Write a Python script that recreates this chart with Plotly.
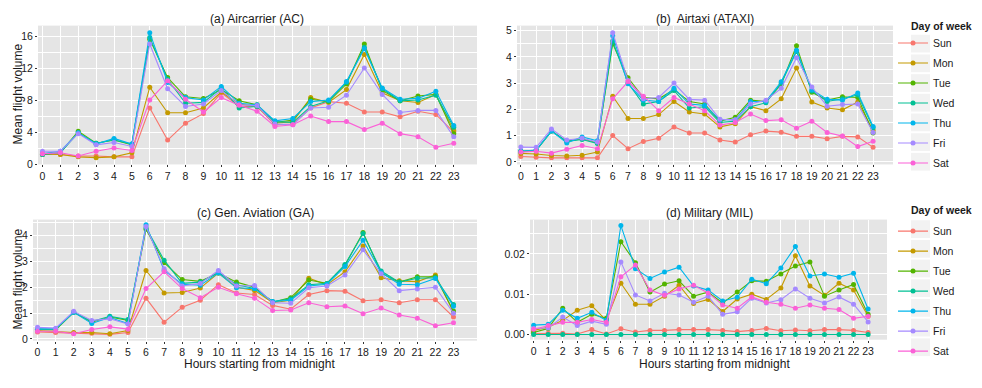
import plotly.graph_objects as go

hours = list(range(24))
days = ["Sun", "Mon", "Tue", "Wed", "Thu", "Fri", "Sat"]
colors = ["#F8766D", "#C49A00", "#53B400", "#00C094", "#00B6EB", "#A58AFF", "#FB61D7"]

# (a) Aircarrier (AC)
ac_sun = [1.2, 1.2, 1.0, 1.0, 0.9, 0.9, 7.0, 3.0, 5.1, 6.3, 8.9, 7.2, 7.2, 4.9, 5.0, 7.0, 7.8, 7.6, 6.5, 6.5, 5.9, 6.6, 6.2, 4.0]
ac_mon = [1.3, 1.2, 0.9, 0.8, 0.9, 1.4, 9.6, 6.4, 6.4, 7.0, 9.0, 7.5, 7.2, 5.1, 5.3, 8.3, 7.7, 9.3, 13.7, 8.9, 7.9, 7.7, 8.7, 4.2]
ac_tue = [1.2, 1.4, 4.1, 2.6, 3.0, 2.4, 15.6, 10.8, 8.4, 8.2, 9.3, 7.9, 7.4, 5.2, 5.5, 8.1, 7.8, 10.0, 15.0, 9.2, 7.9, 8.5, 8.7, 3.8]
ac_wed = [1.2, 1.4, 3.9, 2.6, 3.0, 2.5, 15.8, 10.6, 7.6, 7.7, 9.5, 7.0, 7.2, 5.3, 5.2, 7.2, 7.9, 10.2, 14.6, 9.4, 7.9, 8.0, 8.6, 4.6]
ac_thu = [1.3, 1.6, 3.9, 2.5, 3.2, 2.5, 16.4, 10.2, 8.3, 8.0, 9.7, 7.6, 7.4, 5.4, 5.7, 7.8, 8.0, 10.3, 14.4, 9.5, 8.1, 8.2, 9.1, 4.8]
ac_fri = [1.6, 1.6, 3.8, 2.4, 2.7, 2.2, 15.0, 9.4, 7.2, 7.5, 9.2, 7.4, 7.3, 5.0, 4.9, 7.0, 7.1, 8.6, 12.0, 8.7, 6.45, 6.7, 6.7, 3.4]
ac_sat = [1.3, 1.4, 1.0, 1.6, 2.0, 1.7, 8.0, 10.4, 8.1, 6.5, 8.3, 7.35, 6.6, 4.7, 4.9, 6.0, 5.3, 5.3, 4.3, 5.1, 3.8, 3.4, 2.1, 2.6]

# (b) Airtaxi (ATAXI)
at_sun = [0.2, 0.17, 0.15, 0.15, 0.15, 0.15, 1.0, 0.5, 0.77, 0.9, 1.33, 1.1, 1.1, 0.83, 0.75, 1.03, 1.17, 1.13, 0.97, 0.97, 0.88, 0.97, 0.95, 0.55]
at_mon = [0.32, 0.3, 0.24, 0.22, 0.25, 0.37, 2.5, 1.65, 1.65, 1.8, 2.3, 1.9, 1.82, 1.33, 1.45, 2.1, 1.95, 2.4, 3.57, 2.28, 2.05, 1.98, 2.28, 1.2]
at_tue = [0.4, 0.43, 1.17, 0.78, 0.88, 0.72, 4.5, 3.2, 2.45, 2.4, 2.75, 2.3, 2.2, 1.55, 1.7, 2.35, 2.3, 2.95, 4.42, 2.65, 2.35, 2.48, 2.45, 1.1]
at_wed = [0.4, 0.43, 1.17, 0.78, 0.85, 0.7, 4.6, 3.0, 2.2, 2.3, 2.72, 2.05, 2.1, 1.5, 1.55, 2.1, 2.25, 3.0, 4.2, 2.7, 2.3, 2.4, 2.55, 1.3]
at_thu = [0.4, 0.45, 1.17, 0.72, 0.95, 0.8, 4.8, 2.97, 2.35, 2.3, 2.8, 2.2, 2.15, 1.6, 1.6, 2.3, 2.3, 3.05, 4.25, 2.75, 2.38, 2.35, 2.62, 1.35]
at_fri = [0.56, 0.55, 1.25, 0.83, 0.9, 0.75, 4.92, 3.1, 2.4, 2.45, 3.0, 2.38, 2.35, 1.62, 1.6, 2.2, 2.35, 2.8, 3.97, 2.85, 2.12, 2.18, 2.2, 1.12]
at_sat = [0.37, 0.4, 0.33, 0.48, 0.62, 0.5, 2.4, 3.06, 2.5, 1.95, 2.45, 2.2, 1.95, 1.4, 1.5, 1.82, 1.57, 1.6, 1.28, 1.55, 1.12, 0.98, 0.58, 0.78]

# (c) Gen. Aviation (GA)
ga_sun = [0.27, 0.25, 0.22, 0.22, 0.18, 0.25, 1.58, 0.65, 1.23, 1.5, 2.1, 1.78, 1.72, 1.3, 1.15, 1.72, 1.87, 1.85, 1.48, 1.52, 1.4, 1.52, 1.52, 0.85]
ga_mon = [0.33, 0.3, 0.25, 0.25, 0.2, 0.33, 2.65, 1.78, 1.8, 1.97, 2.55, 2.0, 1.88, 1.4, 1.5, 2.35, 2.1, 2.6, 3.6, 2.37, 2.25, 2.22, 2.48, 1.02]
ga_tue = [0.38, 0.35, 1.03, 0.65, 0.85, 0.72, 4.25, 2.95, 2.3, 2.23, 2.55, 2.2, 2.0, 1.42, 1.6, 2.28, 2.15, 2.85, 4.12, 2.55, 2.2, 2.41, 2.41, 1.08]
ga_wed = [0.38, 0.38, 1.03, 0.68, 0.88, 0.75, 4.3, 3.05, 2.15, 2.2, 2.58, 2.1, 1.95, 1.45, 1.55, 2.1, 2.15, 2.88, 4.08, 2.63, 2.2, 2.35, 2.37, 1.33]
ga_thu = [0.38, 0.4, 1.03, 0.6, 0.83, 0.6, 4.42, 2.65, 2.12, 2.08, 2.55, 1.98, 1.95, 1.45, 1.5, 2.05, 2.12, 2.8, 3.82, 2.58, 2.12, 2.1, 2.34, 1.27]
ga_fri = [0.45, 0.42, 1.07, 0.72, 0.78, 0.58, 4.35, 2.72, 2.05, 2.15, 2.65, 2.05, 2.07, 1.4, 1.38, 1.98, 2.05, 2.48, 3.45, 2.52, 1.87, 1.93, 2.0, 1.0]
ga_sat = [0.3, 0.3, 0.2, 0.37, 0.47, 0.38, 1.95, 2.6, 1.95, 1.6, 2.0, 1.75, 1.58, 1.1, 1.12, 1.4, 1.25, 1.28, 0.98, 1.2, 0.93, 0.8, 0.51, 0.63]

# (d) Military (MIL)
mil_sun = [0.0002, 0.0003, 0.0003, 0.0001, 0.0012, 0.0001, 0.0014, 0.0006, 0.001, 0.001, 0.0012, 0.0012, 0.0012, 0.001, 0.0007, 0.001, 0.0015, 0.0009, 0.0011, 0.0009, 0.0012, 0.0012, 0.001, 0.0005]
mil_mon = [0.001, 0.0018, 0.0035, 0.006, 0.0071, 0.0035, 0.0127, 0.0075, 0.0075, 0.0095, 0.0122, 0.0077, 0.0087, 0.0057, 0.0088, 0.01, 0.0087, 0.0115, 0.0195, 0.012, 0.0097, 0.0127, 0.011, 0.0045]
mil_tue = [0.0005, 0.0015, 0.0065, 0.003, 0.005, 0.004, 0.023, 0.0178, 0.0105, 0.0125, 0.0133, 0.0095, 0.0105, 0.0078, 0.0105, 0.0133, 0.0132, 0.015, 0.017, 0.018, 0.0095, 0.011, 0.0124, 0.005]
mil_wed = [0.0] * 24
mil_thu = [0.0023, 0.0025, 0.006, 0.004, 0.0055, 0.0035, 0.027, 0.0163, 0.0139, 0.0155, 0.0167, 0.012, 0.011, 0.0083, 0.0092, 0.0137, 0.0126, 0.0165, 0.0218, 0.0145, 0.015, 0.0142, 0.0152, 0.0063]
mil_fri = [0.0015, 0.0016, 0.0043, 0.0022, 0.0033, 0.0025, 0.018, 0.0098, 0.0083, 0.0102, 0.0098, 0.008, 0.0095, 0.005, 0.0056, 0.009, 0.0078, 0.0086, 0.0113, 0.009, 0.0078, 0.0093, 0.0075, 0.0031]
mil_sat = [0.0013, 0.0022, 0.003, 0.003, 0.0037, 0.003, 0.0143, 0.0172, 0.011, 0.0097, 0.0113, 0.0122, 0.0103, 0.0073, 0.0065, 0.0093, 0.008, 0.0075, 0.0065, 0.0073, 0.0065, 0.0062, 0.004, 0.0045]

panels = [
    ([ac_sun, ac_mon, ac_tue, ac_wed, ac_thu, ac_fri, ac_sat], "x", "y", None),
    ([at_sun, at_mon, at_tue, at_wed, at_thu, at_fri, at_sat], "x2", "y2", "legend"),
    ([ga_sun, ga_mon, ga_tue, ga_wed, ga_thu, ga_fri, ga_sat], "x3", "y3", None),
    ([mil_sun, mil_mon, mil_tue, mil_wed, mil_thu, mil_fri, mil_sat], "x4", "y4", "legend2"),
]

fig = go.Figure()
for series, xa, ya, leg in panels:
    for day, col, vals in zip(days, colors, series):
        fig.add_trace(go.Scatter(
            x=hours, y=vals, xaxis=xa, yaxis=ya, name=day,
            mode="lines+markers",
            line=dict(color=col, width=1.1),
            marker=dict(color=col, size=5),
            showlegend=leg is not None,
            legend=leg if leg else "legend",
            legendgroup=(leg or "") + day,
        ))

W, H = 982, 388
FONT = "Liberation Sans, Arial, sans-serif"
TXT = "#1a1a1a"


def xd(a, b):
    return [a / W, b / W]


def yd(top, bottom):
    return [1 - bottom / H, 1 - top / H]


def xaxis(dom, anchor):
    return dict(domain=dom, anchor=anchor, range=[-0.25, 24.3], tickmode="array",
                tickvals=hours, ticktext=[str(h) for h in hours],
                showgrid=True, gridcolor="white", gridwidth=1,
                zeroline=False, showline=False, ticks="outside", ticklen=2,
                tickcolor="#333333", tickfont=dict(size=10.5, color=TXT, family=FONT))


def yaxis(dom, anchor, rng, dtick, minor, fmt=None):
    d = dict(domain=dom, anchor=anchor, range=rng, tick0=0, dtick=dtick,
             showgrid=True, gridcolor="white", gridwidth=1,
             minor=dict(tick0=0, dtick=minor, showgrid=True, gridcolor="white", gridwidth=0.5),
             zeroline=False, showline=False, ticks="outside", ticklen=2,
             tickcolor="#333333", tickfont=dict(size=10.5, color=TXT, family=FONT))
    if fmt:
        d["tickformat"] = fmt
    return d


def legend_box(top):
    return dict(x=893 / W, y=1 - top / H, xanchor="left", yanchor="top",
                bgcolor="rgba(0,0,0,0)", tracegroupgap=1,
                font=dict(size=10.5, family=FONT, color=TXT))


fig.update_layout(
    width=W, height=H,
    margin=dict(l=0, r=0, t=0, b=0),
    paper_bgcolor="white", plot_bgcolor="#E5E5E5",
    font=dict(family=FONT, color=TXT),
    xaxis=xaxis(xd(38, 477), "y"),
    yaxis=yaxis(yd(25, 166), "x", [-0.05, 17.3], 4, 2),
    xaxis2=xaxis(xd(517, 893), "y2"),
    yaxis2=yaxis(yd(25, 166), "x2", [-0.1, 5.19], 1, 0.5),
    xaxis3=xaxis(xd(33, 477), "y3"),
    yaxis3=yaxis(yd(222, 345), "x3", [-0.065, 4.62], 1, 0.5),
    xaxis4=xaxis(xd(530, 887), "y4"),
    yaxis4=yaxis(yd(222, 344), "x4", [-0.0013, 0.0285], 0.01, 0.005, ".2f"),
    legend=legend_box(28),
    legend2=legend_box(219),
)

# light key backgrounds (ggplot legend keys)
for top0 in (43.3, 231.7):
    for i in range(7):
        cy = top0 + 20 * i
        fig.add_shape(type="rect", xref="paper", yref="paper",
                      x0=911 / W, x1=930 / W, y0=1 - (cy + 9) / H, y1=1 - (cy - 9) / H,
                      fillcolor="#F2F2F2", line=dict(width=0), layer="below")

for ty in (25, 212.5):
    fig.add_annotation(text="<b>Day of week</b>", x=909 / W, y=1 - ty / H, xref="paper", yref="paper",
                       showarrow=False, xanchor="left", yanchor="middle",
                       font=dict(size=10.5, family=FONT, color=TXT))

titles = [
    ("(a) Aircarrier (AC)", 257, 18),
    ("(b)  Airtaxi (ATAXI)", 705, 18),
    ("(c) Gen. Aviation (GA)", 255, 215),
    ("(d) Military (MIL)", 709, 215),
]
for text, px, py in titles:
    fig.add_annotation(text=text, x=px / W, y=1 - py / H, xref="paper", yref="paper",
                       showarrow=False, xanchor="center", yanchor="middle",
                       font=dict(size=12, family=FONT, color=TXT))

for py in (95, 283):
    fig.add_annotation(text="Mean flight volume", x=18 / W, y=1 - py / H, xref="paper", yref="paper",
                       showarrow=False, textangle=-90, xanchor="center", yanchor="middle",
                       borderpad=0, font=dict(size=12, family=FONT, color=TXT))
for px in (259, 714):
    fig.add_annotation(text="Hours starting from midnight", x=px / W, y=1 - 369 / H, xref="paper", yref="paper",
                       showarrow=False, xanchor="center", yanchor="middle",
                       borderpad=0, font=dict(size=12, family=FONT, color=TXT))

fig.write_html("out.html", config={"displayModeBar": False},
               post_script="document.body.style.margin='0';document.body.style.overflow='hidden';")
